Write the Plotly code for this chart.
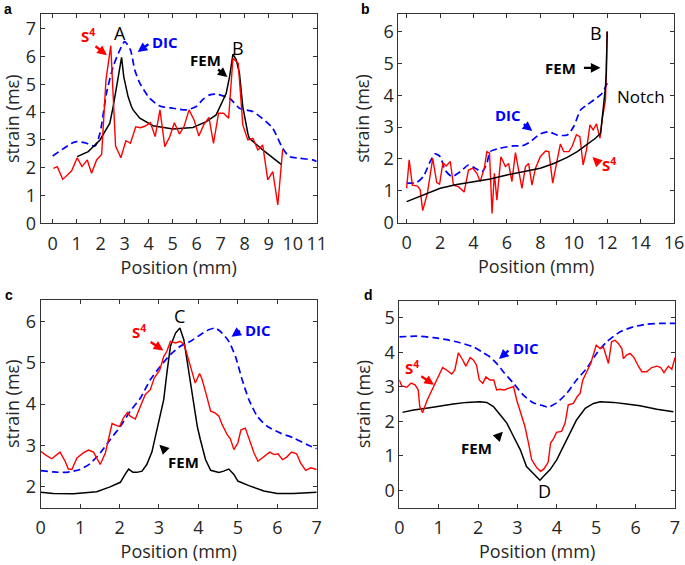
import plotly.graph_objects as go

# ---------------- Panel a ----------------
a_s4_x = [0.03, 0.19, 0.42, 0.79, 1.02, 1.22, 1.44, 1.62, 1.83, 2.04, 2.22, 2.42, 2.62, 2.84, 3.05, 3.24,
          3.46, 3.66, 3.86, 4.07, 4.27, 4.47, 4.67, 4.88, 5.07, 5.28, 5.47, 5.68, 5.89, 6.09, 6.29, 6.51,
          6.70, 6.91, 7.12, 7.33, 7.51, 7.73, 7.92, 8.13, 8.34, 8.55, 8.75, 8.96, 9.17, 9.38, 9.58]
a_s4_y = [1.98, 2.04, 1.58, 1.89, 2.36, 2.04, 2.28, 1.80, 2.28, 2.48, 5.16, 6.39, 2.78, 2.36, 2.97, 2.88,
          3.47, 3.44, 3.50, 3.62, 3.12, 4.08, 2.76, 3.12, 3.62, 3.21, 3.48, 4.08, 3.72, 3.14, 3.54, 3.81,
          2.88, 3.96, 3.96, 3.78, 5.94, 5.76, 3.54, 3.00, 3.06, 2.64, 2.82, 1.56, 1.86, 0.66, 2.64]
a_fem_x = [1.02, 1.48, 1.97, 2.38, 2.52, 2.66, 2.76, 2.87, 2.96, 3.07, 3.14, 3.28, 3.35, 3.63, 4.18, 5.01,
           5.84, 6.40, 6.81, 7.23, 7.37, 7.51, 7.65, 7.78, 7.92, 8.13, 8.19, 8.75, 9.52]
a_fem_y = [2.40, 2.58, 3.00, 3.60, 4.20, 4.92, 5.52, 5.97, 5.28, 4.80, 4.56, 4.20, 4.08, 3.78, 3.51, 3.39,
           3.45, 3.66, 3.90, 4.68, 5.28, 6.09, 5.88, 5.40, 4.20, 3.24, 3.06, 2.64, 2.12]
a_dic_x = [0.0, 0.79, 1.0, 1.41, 1.76, 1.97, 2.24, 2.52, 2.80, 3.0, 3.24, 3.42, 3.63, 4.04, 4.46, 5.01,
           5.57, 5.98, 6.26, 6.54, 6.81, 7.37, 7.78, 8.34, 8.89, 9.17, 9.58, 9.86, 10.28, 10.83, 11.0]
a_dic_y = [2.42, 2.88, 2.94, 2.88, 2.78, 3.24, 4.68, 5.64, 6.24, 6.54, 6.24, 5.52, 5.04, 4.50, 4.22, 4.14,
           4.08, 4.20, 4.46, 4.62, 4.65, 4.50, 4.14, 4.02, 3.66, 3.42, 2.70, 2.40, 2.34, 2.28, 2.22]

# ---------------- Panel b ----------------
b_s4_x = [0.0, 0.15, 0.34, 0.65, 0.81, 0.96, 1.24, 1.56, 1.80, 1.97, 2.17, 2.36, 2.61, 2.80, 3.10, 3.44,
          3.70, 3.97, 4.20, 4.40, 4.65, 4.80, 4.96, 5.11, 5.25, 5.40, 5.64, 5.91, 6.10, 6.30, 6.51, 6.76,
          6.90, 7.11, 7.30, 7.50, 7.71, 8.00, 8.31, 8.51, 8.74, 8.97, 9.20, 9.40, 9.71, 9.90, 10.16, 10.37,
          10.56, 10.76, 10.97, 11.16, 11.36, 11.57, 11.70, 11.90, 12.0]
b_s4_y = [1.08, 1.97, 1.18, 1.15, 1.03, 0.38, 0.92, 2.02, 1.26, 1.21, 1.88, 1.78, 1.92, 1.18, 1.13, 0.96,
          1.65, 1.71, 1.55, 1.29, 1.71, 2.23, 2.18, 0.29, 1.55, 0.71, 2.07, 1.76, 1.86, 1.29, 2.20, 1.55,
          1.08, 1.76, 1.86, 1.18, 1.71, 2.07, 2.25, 2.23, 1.24, 1.86, 2.47, 2.23, 2.23, 2.39, 2.76, 2.70,
          1.81, 2.28, 3.07, 2.91, 3.10, 2.65, 3.23, 3.85, 6.00]
b_fem_x = [0.0, 1.0, 2.01, 3.0, 4.01, 5.0, 6.0, 7.0, 8.0, 8.80, 9.61, 10.21, 10.81, 11.30, 11.61,
           11.80, 11.90, 11.95, 12.0]
b_fem_y = [0.66, 0.87, 1.08, 1.20, 1.29, 1.37, 1.50, 1.60, 1.71, 1.86, 2.05, 2.23, 2.46, 2.65, 2.81,
           3.64, 4.27, 4.70, 6.00]
b_dic_x = [0.0, 0.60, 1.0, 1.41, 1.70, 2.01, 2.30, 2.71, 3.21, 3.70, 4.10, 4.51, 4.80, 5.0, 5.60, 6.41,
           6.90, 7.40, 8.0, 8.51, 9.01, 9.61, 10.0, 10.41, 10.81, 11.20, 11.70, 12.0]
b_dic_y = [1.24, 1.26, 1.45, 1.92, 2.16, 2.07, 1.65, 1.45, 1.60, 1.81, 1.71, 1.60, 1.86, 2.23, 2.34, 2.41,
           2.41, 2.54, 2.79, 2.85, 2.75, 2.75, 3.02, 3.54, 3.70, 3.85, 4.06, 4.38]

# ---------------- Panel c ----------------
c_s4_x = [0.0, 0.11, 0.28, 0.49, 0.62, 0.70, 0.79, 0.92, 1.08, 1.21, 1.34, 1.42, 1.51, 1.64, 1.81, 1.93,
          2.0, 2.10, 2.20, 2.27, 2.40, 2.53, 2.65, 2.78, 2.88, 3.02, 3.12, 3.20, 3.29, 3.42, 3.54, 3.64,
          3.71, 3.81, 3.92, 4.03, 4.09, 4.20, 4.31, 4.42, 4.52, 4.60, 4.73, 4.81, 4.90, 5.0, 5.08, 5.19,
          5.31, 5.41, 5.51, 5.66, 5.81, 5.92, 6.02, 6.13, 6.24, 6.36, 6.49, 6.59, 6.72, 6.85, 7.0]
c_s4_y = [2.86, 2.78, 2.68, 2.84, 2.62, 2.43, 2.42, 2.70, 2.82, 2.89, 2.84, 2.70, 2.54, 2.82, 3.53, 3.48,
          3.46, 3.67, 3.80, 3.71, 3.64, 3.95, 4.23, 4.35, 4.63, 4.83, 5.15, 5.28, 5.52, 5.48, 5.52, 5.44,
          5.20, 4.87, 4.51, 4.74, 4.61, 4.23, 3.83, 3.79, 3.71, 3.51, 3.26, 3.16, 2.90, 3.06, 3.38, 3.42,
          3.06, 2.82, 2.62, 2.74, 2.84, 2.78, 2.80, 2.66, 2.72, 2.84, 2.80, 2.58, 2.40, 2.46, 2.42]
c_fem_x = [0.0, 0.32, 0.83, 1.42, 1.76, 2.02, 2.14, 2.23, 2.34, 2.44, 2.57, 2.69, 2.82, 2.91, 3.02, 3.12,
           3.20, 3.29, 3.42, 3.53, 3.63, 3.73, 3.84, 3.97, 4.05, 4.18, 4.31, 4.52, 4.64, 4.77, 4.90, 5.0,
           5.28, 5.66, 6.0, 6.42, 7.0]
c_fem_y = [1.87, 1.84, 1.83, 1.88, 2.0, 2.11, 2.30, 2.43, 2.35, 2.35, 2.38, 2.54, 2.84, 3.22, 3.63, 4.11,
           4.75, 5.40, 5.72, 5.84, 5.56, 4.91, 4.19, 3.47, 3.14, 2.66, 2.40, 2.35, 2.38, 2.43, 2.30, 2.14,
           2.03, 1.90, 1.84, 1.84, 1.87]
c_dic_x = [0.0, 0.32, 0.66, 1.0, 1.25, 1.51, 1.76, 2.02, 2.27, 2.53, 2.78, 3.03, 3.29, 3.54, 3.80, 4.05,
           4.26, 4.43, 4.60, 4.77, 4.94, 5.11, 5.28, 5.49, 5.75, 6.08, 6.42, 6.76, 7.0]
c_dic_y = [2.39, 2.36, 2.35, 2.42, 2.56, 2.82, 3.14, 3.46, 3.83, 4.15, 4.59, 4.91, 5.20, 5.40, 5.52, 5.68,
           5.80, 5.84, 5.72, 5.52, 5.15, 4.59, 4.11, 3.71, 3.46, 3.30, 3.18, 3.02, 2.92]

# ---------------- Panel d ----------------
d_s4_x = [0.0, 0.06, 0.19, 0.30, 0.40, 0.48, 0.52, 0.59, 0.71, 0.86, 0.99, 1.10, 1.20, 1.33, 1.41, 1.50,
          1.61, 1.69, 1.80, 1.88, 1.96, 2.03, 2.12, 2.20, 2.30, 2.40, 2.47, 2.56, 2.66, 2.77, 2.90, 2.98,
          3.11, 3.19, 3.28, 3.36, 3.49, 3.59, 3.67, 3.78, 3.84, 3.91, 3.99, 4.12, 4.21, 4.29, 4.42, 4.52,
          4.59, 4.66, 4.76, 4.86, 5.0, 5.10, 5.18, 5.27, 5.31, 5.39, 5.48, 5.56, 5.65, 5.69, 5.77, 5.86,
          5.96, 6.07, 6.16, 6.28, 6.41, 6.54, 6.64, 6.72, 6.83, 6.92, 7.0]
d_s4_y = [3.20, 3.03, 2.99, 3.11, 3.06, 2.91, 2.43, 2.25, 2.62, 3.00, 3.29, 3.56, 3.49, 3.37, 3.49, 3.99,
          3.78, 3.60, 3.85, 3.78, 3.63, 3.20, 3.10, 3.29, 3.20, 3.20, 2.91, 2.93, 2.91, 2.96, 3.01, 2.62,
          2.14, 1.85, 1.37, 0.89, 0.65, 0.55, 0.62, 0.81, 1.37, 1.48, 1.68, 1.71, 1.95, 2.48, 2.52, 2.72,
          2.81, 3.20, 3.44, 3.68, 4.21, 4.11, 4.16, 3.87, 3.68, 4.31, 4.35, 4.26, 4.11, 3.82, 3.92, 3.97,
          3.85, 3.60, 3.44, 3.44, 3.56, 3.60, 3.56, 3.41, 3.60, 3.51, 3.85]
d_fem_x = [0.08, 0.36, 0.69, 1.03, 1.37, 1.71, 2.05, 2.22, 2.39, 2.56, 2.73, 2.90, 3.07, 3.23, 3.40, 3.57,
           3.70, 3.83, 4.0, 4.17, 4.34, 4.50, 4.72, 4.93, 5.10, 5.44, 5.77, 6.11, 6.54, 6.96]
d_fem_y = [2.26, 2.33, 2.38, 2.45, 2.50, 2.55, 2.57, 2.55, 2.43, 2.19, 1.95, 1.56, 1.18, 0.69, 0.50, 0.29,
           0.45, 0.60, 0.89, 1.29, 1.71, 2.04, 2.38, 2.52, 2.57, 2.55, 2.50, 2.45, 2.35, 2.28]
d_dic_x = [0.0, 0.44, 0.86, 1.20, 1.54, 1.88, 2.13, 2.30, 2.47, 2.64, 2.90, 3.15, 3.40, 3.66, 3.78, 4.0,
           4.25, 4.50, 4.76, 5.01, 5.27, 5.61, 5.94, 6.28, 6.62, 7.0]
d_dic_y = [4.45, 4.47, 4.43, 4.37, 4.28, 4.16, 3.99, 3.87, 3.68, 3.44, 3.10, 2.76, 2.54, 2.45, 2.41, 2.54,
           2.81, 3.20, 3.54, 3.97, 4.31, 4.60, 4.74, 4.82, 4.84, 4.84]

# ---------------- tick labels ----------------
a_xticks = list(range(0, 12))
a_yticks = list(range(0, 8))
b_xticks = list(range(0, 17, 2))
b_yticks = list(range(0, 7))
c_xticks = list(range(0, 8))
c_yticks = [2, 3, 4, 5, 6]
d_xticks = list(range(0, 8))
d_yticks = [0, 1, 2, 3, 4, 5]

RED = "#FF0000"
BLUE = "#0000FF"
BLACK = "#000000"
FONT = "Open Sans"
TXT = "#262626"
FS = 18

fig = go.Figure()

panels = [
    ("", (a_dic_x, a_dic_y), (a_fem_x, a_fem_y), (a_s4_x, a_s4_y)),
    ("2", (b_dic_x, b_dic_y), (b_fem_x, b_fem_y), (b_s4_x, b_s4_y)),
    ("3", (c_dic_x, c_dic_y), (c_fem_x, c_fem_y), (c_s4_x, c_s4_y)),
    ("4", (d_dic_x, d_dic_y), (d_fem_x, d_fem_y), (d_s4_x, d_s4_y)),
]
for suf, dic, fem, s4 in panels:
    xa, ya = "x" + suf, "y" + suf
    fig.add_trace(go.Scatter(x=dic[0], y=dic[1], mode="lines", xaxis=xa, yaxis=ya,
                             line=dict(color=BLUE, width=1.7, dash="7px,4px", shape="spline", smoothing=0.6)))
    if suf == "2":
        fig.add_trace(go.Scatter(x=s4[0], y=s4[1], mode="lines", xaxis=xa, yaxis=ya,
                                 line=dict(color=RED, width=1.4)))
        fig.add_trace(go.Scatter(x=fem[0], y=fem[1], mode="lines", xaxis=xa, yaxis=ya,
                                 line=dict(color=BLACK, width=1.5)))
    else:
        fig.add_trace(go.Scatter(x=fem[0], y=fem[1], mode="lines", xaxis=xa, yaxis=ya,
                                 line=dict(color=BLACK, width=1.5)))
        fig.add_trace(go.Scatter(x=s4[0], y=s4[1], mode="lines", xaxis=xa, yaxis=ya,
                                 line=dict(color=RED, width=1.4)))

W, H = 685, 565


def dom_x(l, r):
    return [l / W, r / W]


def dom_y(t, b):
    return [1 - b / H, 1 - t / H]


def make_axis(domain, rng, tickvals, anchor, title, is_x):
    d = dict(
        domain=domain, range=rng, tickvals=tickvals, anchor=anchor,
        showline=True, linecolor="#333333", linewidth=1, mirror="ticks", ticks="inside",
        ticklen=4, tickcolor="#333333", showgrid=False, zeroline=False, automargin=False,
        tickfont=dict(family=FONT, size=FS, color=TXT),
        title=dict(text=title, font=dict(family=FONT, size=FS, color=TXT), standoff=4 if is_x else 9),
    )
    if is_x:
        d["ticklabelstandoff"] = 4
    return d


fig.update_layout(
    width=W, height=H, margin=dict(l=0, r=0, t=0, b=0),
    font=dict(family=FONT, size=FS, color=TXT),
    paper_bgcolor="white", plot_bgcolor="white", showlegend=False,
    xaxis=make_axis(dom_x(40.7, 316.7), [-0.5, 11.0], a_xticks, "y", "Position (mm)", True),
    yaxis=make_axis(dom_y(14.3, 223.3), [0, 7.52], a_yticks, "x", "strain (mε)", False),
    xaxis2=make_axis(dom_x(398.3, 674), [-0.5, 16.0], b_xticks, "y2", "Position (mm)", True),
    yaxis2=make_axis(dom_y(14.3, 222.7), [0, 6.54], b_yticks, "x2", "strain (mε)", False),
    xaxis3=make_axis(dom_x(40.7, 316.7), [0, 7], c_xticks, "y3", "Position (mm)", True),
    yaxis3=make_axis(dom_y(300, 507.5), [1.5, 6.52], c_yticks, "x3", "strain (mε)", False),
    xaxis4=make_axis(dom_x(399.3, 675), [0, 7], d_xticks, "y4", "Position (mm)", True),
    yaxis4=make_axis(dom_y(300.7, 507.5), [-0.5, 5.5], d_yticks, "x4", "strain (mε)", False),
)

ann = []


def label(suf, x, y, text, color=BLACK, bold=False, size=17):
    t = "<b>%s</b>" % text if bold else text
    ann.append(dict(xref="x" + suf, yref="y" + suf, x=x, y=y, text=t, showarrow=False,
                    font=dict(family=FONT, size=size, color=color), xanchor="center", yanchor="middle"))


def arrow(suf, x0, y0, x1, y1, color):
    ann.append(dict(xref="x" + suf, yref="y" + suf, axref="x" + suf, ayref="y" + suf,
                    x=x1, y=y1, ax=x0, ay=y0, text="", showarrow=True,
                    arrowhead=2, arrowsize=0.8, arrowwidth=2.4, arrowcolor=color))


S4 = "S<sup>4</sup>"
# panel a
label("", 2.80, 6.85, "A", size=18)
label("", 7.74, 6.31, "B", size=18)
label("", 1.47, 6.74, S4, RED, True, 15)
arrow("", 1.72, 6.41, 2.26, 6.05, RED)
label("", 4.66, 6.52, "DIC", BLUE, True, 15)
arrow("", 4.05, 6.48, 3.54, 6.16, BLUE)
label("", 6.37, 5.87, "FEM", BLACK, True, 15)
arrow("", 6.83, 5.58, 7.28, 5.26, BLACK)
# panel b
label("2", 11.36, 5.96, "B", size=18)
label("2", 9.20, 4.86, "FEM", BLACK, True, 15)
arrow("2", 10.52, 4.86, 11.60, 4.86, BLACK)
label("2", 14.0, 3.95, "Notch", size=17)
label("2", 6.08, 3.38, "DIC", BLUE, True, 15)
arrow("2", 6.92, 3.13, 7.52, 2.88, BLUE)
label("2", 12.08, 1.84, S4, RED, True, 15)
arrow("2", 11.48, 1.88, 11.12, 2.06, RED)
# panel c
label("3", 3.52, 6.14, "C", size=18)
label("3", 2.50, 5.75, S4, RED, True, 15)
arrow("3", 2.75, 5.53, 3.11, 5.30, RED)
label("3", 5.50, 5.80, "DIC", BLUE, True, 15)
arrow("3", 5.09, 5.80, 4.84, 5.63, BLUE)
label("3", 3.62, 2.61, "FEM", BLACK, True, 15)
arrow("3", 3.21, 2.83, 3.01, 3.02, BLACK)
# panel d
label("4", 3.68, -0.01, "D", size=18)
label("4", 3.22, 4.12, "DIC", BLUE, True, 15)
arrow("4", 2.81, 4.09, 2.53, 3.81, BLUE)
label("4", 0.32, 3.55, S4, RED, True, 15)
arrow("4", 0.52, 3.34, 0.88, 3.06, RED)
label("4", 1.97, 1.23, "FEM", BLACK, True, 15)
arrow("4", 2.43, 1.46, 2.63, 1.70, BLACK)

# panel letters
for txt, px, py in [("a", 8, 9), ("b", 366, 9), ("c", 9, 295), ("d", 368, 295)]:
    ann.append(dict(xref="paper", yref="paper", x=px / W, y=1 - py / H, text="<b>%s</b>" % txt,
                    showarrow=False, font=dict(family="Liberation Sans", size=14, color="black"),
                    xanchor="center", yanchor="middle"))

fig.update_layout(annotations=ann)
fig.write_html("out.html", config={"displayModeBar": False},
               post_script="document.body.style.margin='0px';")
